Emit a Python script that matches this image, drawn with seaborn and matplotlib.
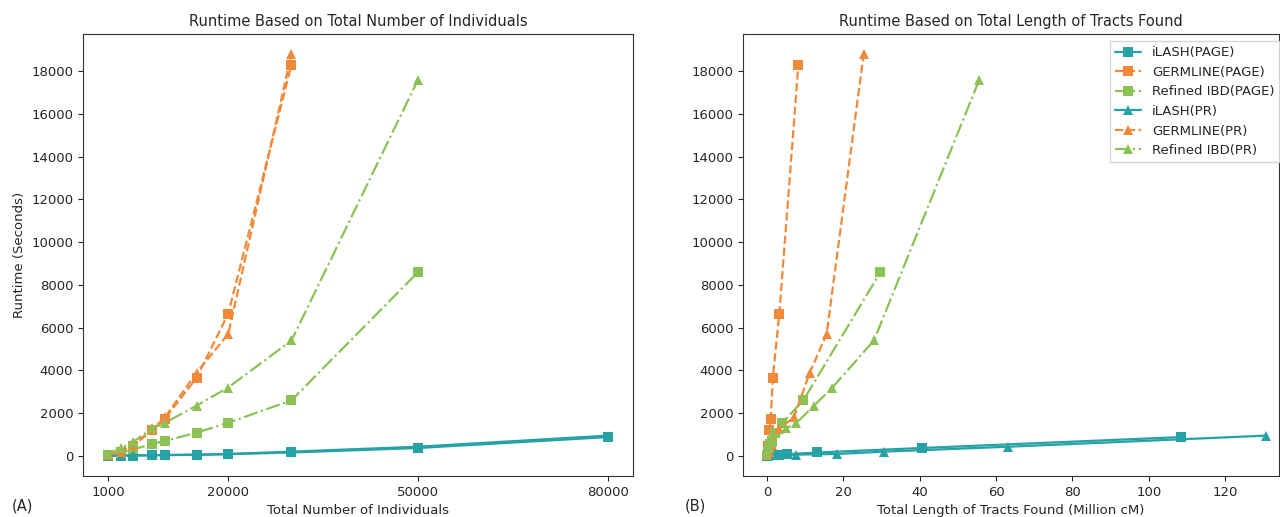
import pandas as pd
import seaborn as sns
import matplotlib.pyplot as plt
from matplotlib.ticker import MultipleLocator

# Number of individuals in each test set
n_indiv = [1000, 3000, 5000, 8000, 10000, 15000, 20000, 30000, 50000, 80000]

# Runtimes (seconds)
ilash_page_rt = [5, 10, 15, 25, 35, 50, 80, 160, 370, 880]
germline_page_rt = [30, 180, 480, 1200, 1750, 3650, 6650, 18300]
refined_page_rt = [60, 150, 300, 560, 700, 1085, 1550, 2600, 8600]
ilash_pr_rt = [10, 15, 25, 35, 45, 60, 90, 200, 430, 950]
germline_pr_rt = [40, 200, 500, 1250, 1800, 3900, 5700, 18800]
refined_pr_rt = [90, 360, 665, 1290, 1550, 2350, 3200, 5400, 17600]

# Total length of tracts found (million cM)
ilash_page_len = [0.015, 0.13, 0.35, 0.9, 1.4, 3.1, 5.3, 13.2, 40.5, 108.4]
germline_page_len = [0.05, 0.15, 0.3, 0.6, 0.95, 1.5, 3.2, 8.2]
refined_page_len = [0.02, 0.2, 0.4, 0.8, 1.2, 2.0, 4.0, 9.5, 29.7]
ilash_pr_len = [0.02, 0.2, 0.5, 1.3, 2.2, 7.7, 18.2, 30.6, 63.2, 130.8]
germline_pr_len = [0.1, 0.5, 1.2, 3.0, 7.0, 11.2, 15.6, 25.3]
refined_pr_len = [0.1, 0.6, 1.2, 5.0, 7.7, 12.3, 17.1, 28.0, 55.6]

labels = ['iLASH(PAGE)', 'GERMLINE(PAGE)', 'Refined IBD(PAGE)',
          'iLASH(PR)', 'GERMLINE(PR)', 'Refined IBD(PR)']
runtimes = [ilash_page_rt, germline_page_rt, refined_page_rt,
            ilash_pr_rt, germline_pr_rt, refined_pr_rt]
lengths = [ilash_page_len, germline_page_len, refined_page_len,
           ilash_pr_len, germline_pr_len, refined_pr_len]

teal, orange, green = '#26a2a6', '#f0893a', '#8cc155'
colors = [teal, orange, green] * 2
styles = ['-', '--', '-.'] * 2
markers = ['s'] * 3 + ['^'] * 3

sns.set_style('ticks')
plt.rcParams['font.family'] = ['DejaVu Sans']

fig = plt.figure(figsize=(12.8, 5.17), dpi=100)
ax1 = fig.add_axes([0.0648, 0.0793, 0.4297, 0.855])
ax2 = fig.add_axes([0.5805, 0.0793, 0.4187, 0.855])

for i, lab in enumerate(labels):
    rt = runtimes[i]
    df_a = pd.DataFrame({'n': n_indiv[:len(rt)], 'rt': rt})
    df_b = pd.DataFrame({'len': lengths[i], 'rt': rt})
    kw = dict(color=colors[i], linestyle=styles[i], marker=markers[i],
              markersize=6.5, markeredgewidth=0, linewidth=1.6, sort=False)
    sns.lineplot(data=df_a, x='n', y='rt', ax=ax1, label=lab, **kw)
    sns.lineplot(data=df_b, x='len', y='rt', ax=ax2, label=lab, **kw)

# Left panel
ax1.set_title('Runtime Based on Total Number of Individuals', fontsize=10.5)
ax1.set_xlabel('Total Number of Individuals', fontsize=9.5)
ax1.set_ylabel('Runtime (Seconds)', fontsize=9.5)
ax1.set_xticks([1000, 20000, 50000, 80000])
ax1.set_xlim(-2950, 83950)
ax1.set_ylim(-940, 19740)
ax1.yaxis.set_major_locator(MultipleLocator(2000))
ax1.get_legend().remove()

# Right panel
ax2.set_title('Runtime Based on Total Length of Tracts Found', fontsize=10.5)
ax2.set_xlabel('Total Length of Tracts Found (Million cM)', fontsize=9.5)
ax2.set_ylabel('')
ax2.set_xlim(-6.3, 134.1)
ax2.set_ylim(-940, 19740)
ax2.xaxis.set_major_locator(MultipleLocator(20))
ax2.yaxis.set_major_locator(MultipleLocator(2000))
ax2.legend(loc='upper left', bbox_to_anchor=(0.867, 0.921),
           bbox_transform=fig.transFigure, borderaxespad=0, fontsize=9.5,
           frameon=True, fancybox=False, edgecolor='#cccccc')

for ax in (ax1, ax2):
    ax.tick_params(labelsize=9.5)
    for s in ax.spines.values():
        s.set_color('#333333')

fig.text(0.009, 0.012, '(A)', fontsize=10.5)
fig.text(0.535, 0.012, '(B)', fontsize=10.5)

fig.savefig('out.png', dpi=100)
